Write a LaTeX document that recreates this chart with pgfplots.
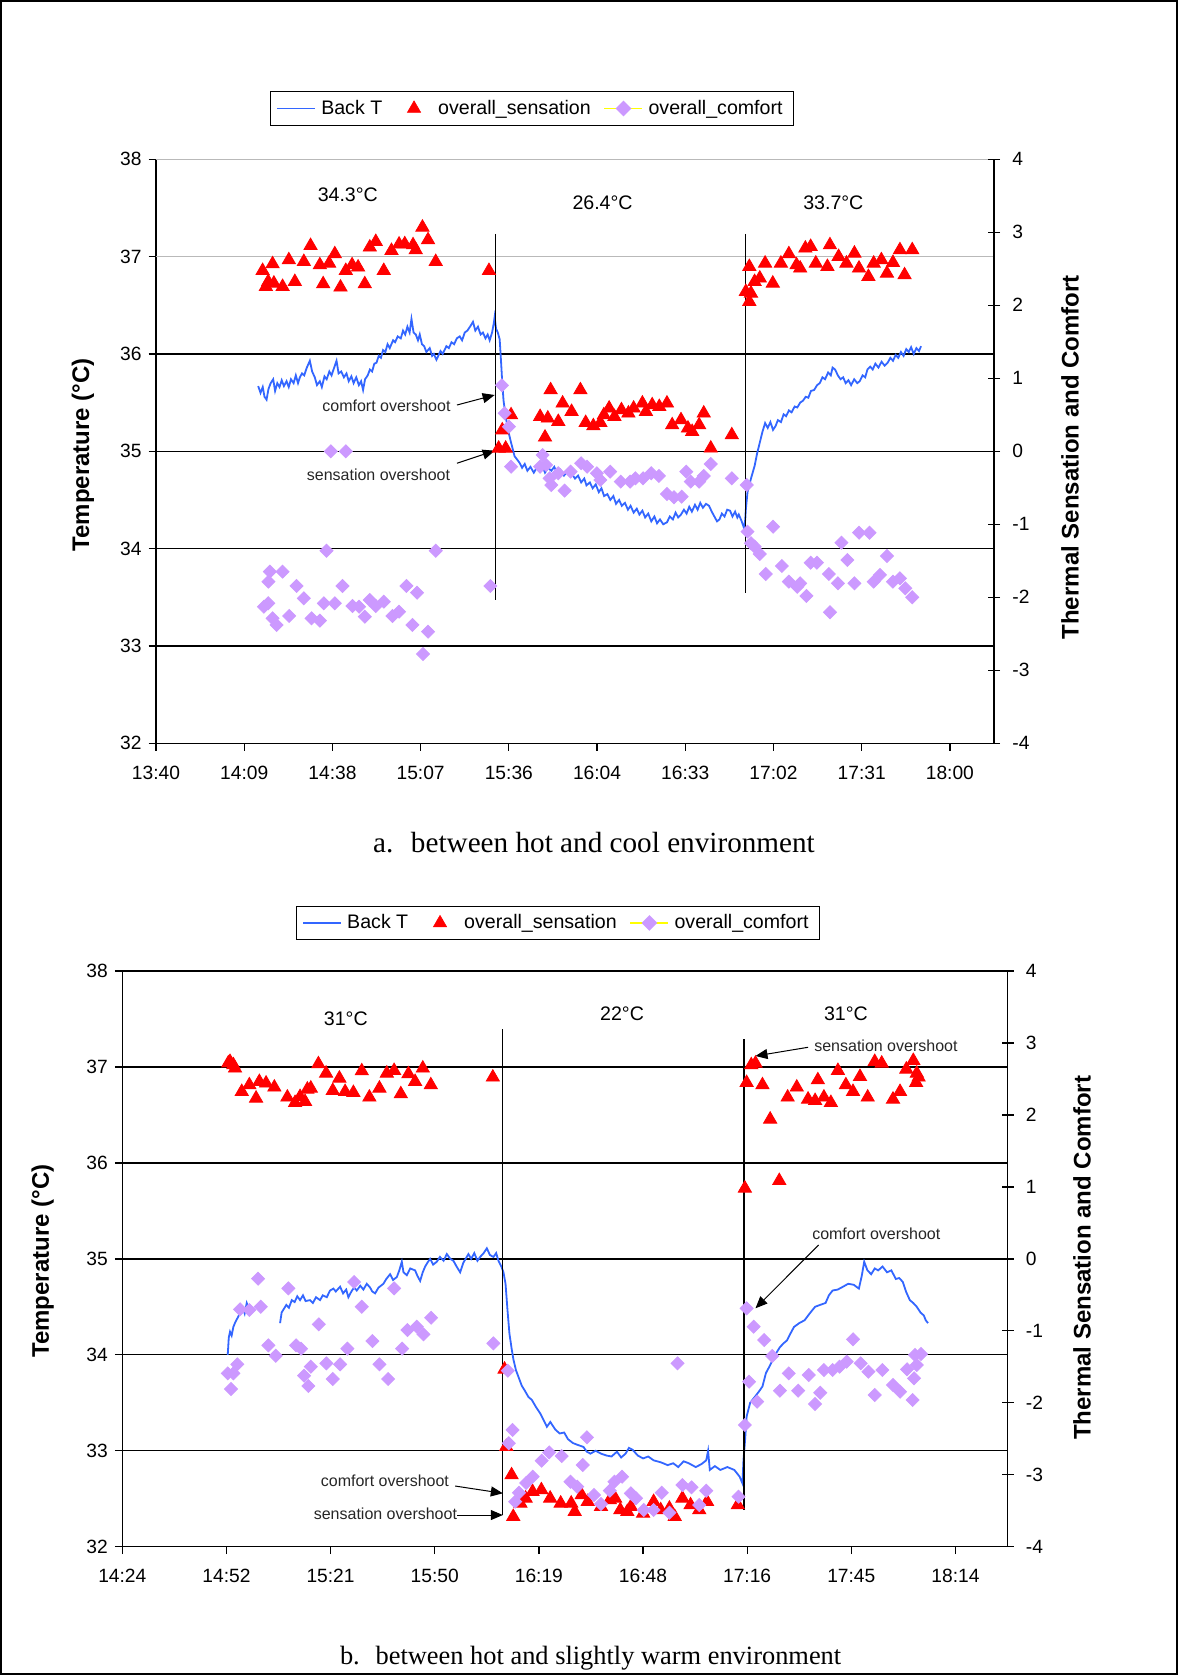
\documentclass[border=0pt]{standalone}
\usepackage{pgfplots}
\pgfplotsset{compat=1.18}
\usepackage{fontspec}
\setmainfont{Liberation Sans}
\newfontfamily\timesfont{Liberation Serif}
\usetikzlibrary{arrows.meta}
\definecolor{backT}{RGB}{51,102,255}
\definecolor{lilac}{RGB}{204,153,255}
\definecolor{yel}{RGB}{255,255,0}
\newcommand\ylabfont{\bfseries\fontsize{12}{14}\selectfont}

\tikzset{
  ann/.style={font=\fontsize{8}{9}\selectfont, text=black!85},
  per/.style={font=\fontsize{9.8}{11}\selectfont},
  arr/.style={-{Triangle[length=6pt,width=5pt]}, line width=0.5pt, black},
}
\pgfplotsset{
  ticklbl/.style={tick label style={font=\fontsize{9.6}{11}\selectfont}, /pgf/number format/assume math mode=true},
  leftax/.style={ticklbl, scale only axis, axis x line*=bottom, axis y line*=left,
     x axis line style={-}, y axis line style={-},
     axis line style={black, line width=0.65pt},
     ymin=32, ymax=38,
     ymajorgrids, major grid style={black, line width=0.65pt},
     tick style={black, line width=0.65pt},
     tick align=outside, major tick length=3.7pt,
     xticklabel style={yshift=-4pt},
     ylabel={Temperature (°C)},
  },
  rightax/.style={ticklbl, scale only axis, hide x axis, axis y line*=right,
     y axis line style={-}, axis line style={black, line width=0.65pt},
     ymin=-4, ymax=4, ytick={-4,-3,-2,-1,0,1,2,3,4},
     yticklabel style={xshift=2.7pt},
     tick style={black, line width=0.65pt}, tick align=center, major tick length=6pt,
     ylabel={Thermal Sensation and Comfort},
     legend columns=3,
     legend style={draw=black, line width=0.5pt, font=\fontsize{9.8}{11}\selectfont, anchor=center,
       inner xsep=3pt, inner ysep=2pt,
       nodes={inner xsep=2.6pt, inner ysep=2pt},
       /tikz/every even column/.append style={column sep=3.8pt}},
     legend image code/.code={\draw[mark repeat=2,mark phase=2,##1] plot coordinates {(0pt,0pt) (9.5pt,0pt) (19pt,0pt)};},
  },
  sens/.style={only marks, mark=triangle*, mark size=3.8pt, color=red, mark options={fill=red, draw=red}},
  comf/.style={only marks, mark=square*, mark size=2.3pt, color=lilac, mark options={rotate=45, fill=lilac, draw=lilac}},
  bline/.style={backT, line width=0.9pt, no markers},
  vline/.style={black, line width=0.65pt, no markers, forget plot},
  senslegend/.style={legend image code/.code={\path[draw=none,fill=none] (0pt,0pt) -- (19pt,0pt); \path[draw=red,fill=red,line width=0.3pt] (9.5pt,0pt) +(90:3.8pt) -- +(210:3.8pt) -- +(330:3.8pt) -- cycle;}},
}

\begin{document}
\begin{tikzpicture}
\useasboundingbox (0,0) rectangle (589pt,837.5pt);
\draw[line width=1.2pt] (0.6pt,0.6pt) rectangle (588.4pt,836.9pt);

%================ TOP CHART =================
\begin{axis}[leftax, at={(78pt,465.85pt)}, anchor=south west, width=419pt, height=292pt,
  xmin=57, xmax=76, xtick={57,59,61,63,65,67,69,71,73,75},
  xticklabels={13:40,14:09,14:38,15:07,15:36,16:04,16:33,17:02,17:31,18:00},
  ytick={32,33,34,35,36},
  extra y ticks={37,38}, extra y tick style={grid=major, major grid style={gray!55, line width=0.65pt}},
  every axis y label/.style={at={(axis description cs:-0.0871,0.4937)}, rotate=90, anchor=center, font=\ylabfont},
]
\addplot[bline] coordinates {
(59.317,35.67) (59.37,35.60) (59.42,35.66) (59.46,35.56) (59.507,35.53) (59.55,35.64) (59.60,35.70) (59.657,35.74)
(59.70,35.62) (59.75,35.70) (59.80,35.66) (59.85,35.73) (59.90,35.67) (59.960,35.72) (60.01,35.66) (60.06,35.74)
(60.12,35.70) (60.17,35.78) (60.22,35.70) (60.262,35.76) (60.31,35.80) (60.36,35.78) (60.42,35.86) (60.488,35.93)
(60.54,35.82) (60.60,35.76) (60.65,35.68) (60.715,35.72) (60.76,35.66) (60.82,35.77) (60.87,35.74) (60.93,35.82)
(60.98,35.78) (61.04,35.86) (61.093,35.93) (61.14,35.80) (61.20,35.82) (61.26,35.76) (61.319,35.80) (61.37,35.72)
(61.43,35.77) (61.48,35.70) (61.54,35.76) (61.60,35.68) (61.65,35.72) (61.695,35.63) (61.74,35.74) (61.80,35.78)
(61.85,35.84) (61.90,35.82) (61.95,35.90) (61.999,35.91) (62.05,35.98) (62.10,35.96) (62.148,36.04) (62.20,36.02)
(62.25,36.10) (62.30,36.06) (62.375,36.14) (62.42,36.12) (62.48,36.18) (62.55,36.16) (62.601,36.24) (62.65,36.20)
(62.70,36.28) (62.75,36.22) (62.792,36.36) (62.84,36.22) (62.89,36.20) (62.94,36.14) (62.980,36.20) (63.03,36.10)
(63.08,36.08) (63.13,36.02) (63.206,36.06) (63.26,35.98) (63.30,36.00) (63.358,35.94) (63.40,35.98) (63.45,36.03)
(63.50,36.00) (63.584,36.08) (63.64,36.06) (63.70,36.12) (63.76,36.10) (63.82,36.16) (63.886,36.18) (63.94,36.14)
(64.00,36.22) (64.06,36.24) (64.12,36.28) (64.187,36.33) (64.24,36.24) (64.30,36.28) (64.36,36.20) (64.413,36.22)
(64.47,36.16) (64.52,36.20) (64.565,36.14) (64.62,36.22) (64.66,36.32) (64.678,36.38) (64.71,36.26) (64.75,36.22)
(64.792,36.15) (64.81,36.02) (64.830,35.87) (64.851,35.70) (64.88,35.52) (64.928,35.36) (64.98,35.22) (65.050,35.09)
(65.09,35.02) (65.129,34.95) (65.18,34.92) (65.245,34.88) (65.30,34.83) (65.36,34.87) (65.42,34.80) (65.49,34.84)
(65.566,34.78) (65.63,34.83) (65.70,34.79) (65.76,34.85) (65.82,34.78) (65.890,34.83) (65.963,34.80) (66.03,34.84)
(66.10,34.77) (66.17,34.81) (66.25,34.75) (66.32,34.79) (66.441,34.76) (66.50,34.72) (66.57,34.75) (66.64,34.68)
(66.71,34.72) (66.76,34.65) (66.837,34.68) (66.90,34.62) (66.97,34.66) (67.04,34.58) (67.10,34.62) (67.16,34.54)
(67.233,34.56) (67.30,34.50) (67.37,34.54) (67.43,34.46) (67.50,34.50) (67.56,34.44) (67.632,34.47) (67.70,34.40)
(67.76,34.44) (67.83,34.37) (67.90,34.41) (67.96,34.35) (68.028,34.39) (68.09,34.32) (68.16,34.36) (68.23,34.28)
(68.30,34.33) (68.36,34.26) (68.427,34.30) (68.50,34.25) (68.585,34.27) (68.65,34.33) (68.72,34.30) (68.78,34.37)
(68.84,34.32) (68.903,34.35) (68.97,34.40) (69.03,34.36) (69.09,34.43) (69.15,34.38) (69.220,34.45) (69.28,34.40)
(69.34,34.47) (69.40,34.42) (69.47,34.46) (69.539,34.44) (69.60,34.38) (69.66,34.33) (69.720,34.28) (69.775,34.30)
(69.83,34.36) (69.89,34.33) (69.95,34.40) (70.015,34.39) (70.07,34.33) (70.13,34.38) (70.18,34.32) (70.214,34.35)
(70.28,34.28) (70.332,34.21) (70.36,34.30) (70.373,34.40) (70.411,34.58) (70.49,34.72) (70.572,34.85) (70.63,34.98)
(70.690,35.09) (70.75,35.20) (70.810,35.29) (70.87,35.24) (70.93,35.30) (70.99,35.22) (71.048,35.26) (71.10,35.32)
(71.17,35.30) (71.23,35.38) (71.286,35.36) (71.35,35.42) (71.41,35.40) (71.48,35.46) (71.540,35.45) (71.605,35.50)
(71.67,35.52) (71.73,35.56) (71.79,35.55) (71.85,35.62) (71.922,35.63) (71.99,35.68) (72.05,35.70) (72.11,35.76)
(72.17,35.74) (72.239,35.81) (72.30,35.78) (72.340,35.86) (72.397,35.84) (72.46,35.78) (72.52,35.74) (72.58,35.76)
(72.637,35.70) (72.70,35.73) (72.76,35.68) (72.83,35.74) (72.90,35.70) (72.955,35.72) (73.02,35.78) (73.08,35.76)
(73.13,35.84) (73.193,35.87) (73.25,35.84) (73.31,35.90) (73.38,35.86) (73.45,35.92) (73.52,35.88) (73.589,35.91)
(73.65,35.96) (73.71,35.93) (73.77,35.99) (73.829,35.96) (73.89,36.02) (73.95,35.98) (74.01,36.05) (74.067,36.02)
(74.12,36.07) (74.18,36.00) (74.24,36.06) (74.30,36.03) (74.345,36.08)
};
\end{axis}

\begin{axis}[rightax, at={(78pt,465.85pt)}, anchor=south west, width=419pt, height=292pt,
  xmin=57, xmax=76,
  every axis y label/.style={at={(axis description cs:1.0907,0.4897)}, rotate=90, anchor=center, font=\ylabfont},
  legend style={at={(0.4487,1.087)}},
]
\addlegendimage{bline}
\addlegendentry{Back T}
\addplot[sens, forget plot] coordinates {
(59.417,2.474) (59.643,2.566) (59.544,2.323) (59.491,2.255) (59.673,2.301) (59.870,2.255) (60.012,2.621) (60.148,2.323)
(60.352,2.597) (60.504,2.816) (60.715,2.552) (60.790,2.292) (60.925,2.575) (61.054,2.703) (61.183,2.247) (61.303,2.474)
(61.446,2.552) (61.582,2.521) (61.734,2.292) (61.847,2.795) (61.983,2.871) (62.164,2.474) (62.339,2.748) (62.511,2.836)
(62.640,2.840) (62.828,2.826) (62.889,2.758) (63.041,3.068) (63.168,2.895) (63.342,2.597) (64.549,2.474)
(64.769,0.04) (64.928,0.04) (64.851,0.29) (65.050,0.497) (65.709,0.474) (65.883,0.452) (65.947,0.840) (65.820,0.192)
(66.121,0.406) (66.219,0.658) (66.422,0.543) (66.622,0.840) (66.742,0.392) (66.916,0.347) (67.075,0.392) (67.154,0.497)
(67.274,0.589) (67.394,0.474) (67.553,0.566) (67.711,0.521) (67.829,0.589) (68.028,0.658) (68.108,0.543) (68.250,0.634)
(68.411,0.611) (68.585,0.658) (68.703,0.360) (68.903,0.429) (69.061,0.315) (69.156,0.269) (69.315,0.360) (69.419,0.521)
(69.578,0.041) (70.055,0.223)
(70.373,2.186) (70.452,2.05) (70.490,2.164) (70.452,2.529) (70.572,2.323) (70.690,2.37) (70.810,2.575) (70.984,2.301)
(71.168,2.575) (71.349,2.703) (71.523,2.552) (71.605,2.507) (71.723,2.781) (71.843,2.803) (71.960,2.575) (72.223,2.529)
(72.280,2.826) (72.477,2.666) (72.654,2.575) (72.835,2.712) (72.939,2.507) (73.152,2.392) (73.272,2.575) (73.446,2.621)
(73.573,2.438) (73.709,2.584) (73.867,2.758) (73.972,2.415) (74.146,2.758)
};
\addlegendimage{senslegend}
\addlegendentry{overall\_sensation}
\addplot[comf, forget plot] coordinates {
(59.446,-2.129) (59.544,-2.082) (59.582,-1.649) (59.55,-1.786) (59.870,-1.649) (59.643,-2.288) (59.734,-2.379) (60.019,-2.256)
(60.187,-1.845) (60.352,-2.014) (60.527,-2.288) (60.715,-2.320) (60.805,-2.082) (60.866,-1.362) (60.964,0) (61.303,0)
(61.054,-2.082) (61.229,-1.845) (61.455,-2.119) (61.605,-2.129) (61.734,-2.266) (61.847,-2.037) (61.983,-2.119) (62.164,-2.060)
(62.361,-2.256) (62.511,-2.197) (62.678,-1.845) (62.814,-2.379) (62.918,-1.937) (63.054,-2.777) (63.168,-2.471) (63.342,-1.362)
(64.581,-1.845)
(64.842,0.904) (64.905,0.521) (65.002,0.337) (65.050,-0.211) (65.766,-0.051) (65.709,-0.211) (65.845,-0.188) (65.924,-0.370)
(65.963,-0.462) (66.121,-0.301) (66.264,-0.539) (66.400,-0.279) (66.638,-0.164) (66.774,-0.211) (66.995,-0.301) (67.075,-0.393)
(67.297,-0.279) (67.537,-0.416) (67.750,-0.416) (67.870,-0.370) (68.044,-0.370) (68.228,-0.301) (68.402,-0.338) (68.585,-0.585)
(68.744,-0.630) (68.918,-0.622) (69.023,-0.279) (69.124,-0.416) (69.315,-0.416) (69.419,-0.338) (69.578,-0.174) (70.055,-0.370)
(70.395,-0.462)
(70.411,-1.101) (70.490,-1.260) (70.572,-1.306) (70.690,-1.407) (70.991,-1.033) (70.826,-1.681) (71.190,-1.571) (71.349,-1.786)
(71.539,-1.855) (71.605,-1.808) (71.747,-1.982) (71.843,-1.526) (71.985,-1.526) (72.255,-1.681) (72.280,-2.205) (72.461,-1.808)
(72.540,-1.252) (72.676,-1.489) (72.835,-1.808) (72.939,-1.115) (73.177,-1.115) (73.272,-1.786) (73.414,-1.694) (73.573,-1.434)
(73.709,-1.786) (73.867,-1.740) (73.988,-1.877) (74.146,-2.0)
};
\addlegendimage{yel, line width=0.9pt, mark=square*, mark size=2.3pt, mark options={rotate=45, fill=lilac, draw=lilac}}
\addlegendentry{overall\_comfort}
\addplot[vline] coordinates {(64.69,2.977) (64.69,-2.037)};
\addplot[vline] coordinates {(70.37,2.977) (70.37,-1.937)};
\node[per] at (axis cs:61.349,3.511) {34.3°C};
\node[per] at (axis cs:67.125,3.405) {26.4°C};
\node[per] at (axis cs:72.357,3.405) {33.7°C};
\node[ann] at (axis cs:62.225,0.621) {comfort overshoot};
\draw[arr] (axis cs:63.824,0.634) -- (axis cs:64.678,0.771);
\node[ann] at (axis cs:62.044,-0.325) {sensation overshoot};
\draw[arr] (axis cs:63.824,-0.164) -- (axis cs:64.678,0.008);
\end{axis}

%================ BOTTOM CHART =================
\begin{axis}[leftax, at={(61.15pt,64.15pt)}, anchor=south west, width=442.6pt, height=287.85pt,
  xmin=60, xmax=77, xtick={60,62,64,66,68,70,72,74,76},
  xticklabels={14:24,14:52,15:21,15:50,16:19,16:48,17:16,17:45,18:14},
  ytick={32,33,34,35,36,37,38},
  every axis y label/.style={at={(axis description cs:-0.0899,0.496)}, rotate=90, anchor=center, font=\ylabfont},
]
\addplot[bline] coordinates {
(62.025,34.00) (62.045,34.18) (62.069,34.24) (62.10,34.20) (62.133,34.29) (62.17,34.34) (62.229,34.40) (62.27,34.44)
(62.325,34.47) (62.35,34.43) (62.390,34.54) (62.42,34.50)
};
\addplot[bline] coordinates {
(63.030,34.33) (63.06,34.44) (63.093,34.47) (63.15,34.52) (63.20,34.49) (63.255,34.57) (63.31,34.55) (63.36,34.61)
(63.414,34.57) (63.47,34.62) (63.52,34.56) (63.606,34.57) (63.66,34.54) (63.72,34.60) (63.798,34.57) (63.85,34.62)
(63.927,34.60) (63.99,34.67) (64.054,34.69) (64.10,34.66) (64.183,34.71) (64.24,34.64) (64.30,34.68) (64.342,34.60)
(64.40,34.66) (64.45,34.70) (64.503,34.67) (64.57,34.72) (64.63,34.68) (64.695,34.74) (64.76,34.70) (64.80,34.66)
(64.855,34.64) (64.92,34.70) (65.014,34.74) (65.07,34.79) (65.143,34.84) (65.20,34.78) (65.272,34.81) (65.32,34.88)
(65.368,34.97) (65.40,34.86) (65.464,34.83) (65.53,34.90) (65.623,34.88) (65.67,34.82) (65.720,34.77) (65.77,34.86)
(65.816,34.92) (65.86,34.96) (65.912,35.00) (65.97,34.94) (66.040,34.97) (66.10,35.02) (66.17,34.98) (66.232,35.05)
(66.30,35.00) (66.359,34.98) (66.42,34.92) (66.488,34.86) (66.55,34.96) (66.647,35.05) (66.70,35.00) (66.76,35.06)
(66.82,34.98) (66.872,35.02) (66.94,35.06) (67.001,35.11) (67.06,35.04) (67.128,35.02) (67.18,35.06) (67.224,34.98)
(67.28,34.92) (67.320,34.86) (67.36,34.74) (67.397,34.47) (67.435,34.22) (67.481,34.05) (67.512,33.95) (67.56,33.84)
(67.608,33.77) (67.67,33.68) (67.737,33.62) (67.80,33.56) (67.865,33.53) (67.94,33.46) (68.025,33.39) (68.09,33.32)
(68.154,33.25) (68.22,33.30) (68.317,33.22) (68.40,33.18) (68.486,33.19) (68.56,33.12) (68.655,33.08) (68.75,33.06)
(68.857,33.04) (68.92,32.99) (68.991,32.97) (69.09,33.00) (69.193,32.97) (69.30,32.95) (69.395,32.94) (69.50,32.99)
(69.58,32.93) (69.666,32.97) (69.73,33.03) (69.800,33.01) (69.90,32.95) (70.002,32.92) (70.10,32.94) (70.204,32.90)
(70.34,32.88) (70.475,32.85) (70.58,32.87) (70.676,32.83) (70.78,32.89) (70.878,32.87) (71.012,32.83) (71.12,32.86)
(71.214,32.90) (71.25,33.00) (71.283,32.80) (71.38,32.84) (71.485,32.80) (71.620,32.83) (71.754,32.80) (71.856,32.73)
(71.910,32.66) (71.929,32.90) (71.956,33.08) (71.991,33.36) (72.058,33.50) (72.160,33.57) (72.23,33.62) (72.294,33.67)
(72.361,33.81) (72.43,33.88) (72.496,33.95) (72.56,34.02) (72.630,34.08) (72.70,34.12) (72.765,34.15) (72.83,34.22)
(72.899,34.29) (73.00,34.33) (73.103,34.36) (73.20,34.43) (73.304,34.50) (73.40,34.52) (73.506,34.54) (73.57,34.62)
(73.641,34.67) (73.74,34.68) (73.842,34.71) (73.94,34.74) (74.046,34.73) (74.146,34.69) (74.20,34.82) (74.248,34.97)
(74.31,34.88) (74.382,34.84) (74.45,34.90) (74.517,34.88) (74.60,34.92) (74.686,34.86) (74.77,34.88) (74.855,34.79)
(74.92,34.80) (74.989,34.76) (75.05,34.66) (75.124,34.57) (75.19,34.54) (75.258,34.50) (75.33,34.44) (75.393,34.41)
(75.43,34.36) (75.474,34.33)
};
\end{axis}

\begin{axis}[rightax, at={(61.15pt,64.15pt)}, anchor=south west, width=442.6pt, height=287.85pt,
  xmin=60, xmax=77,
  every axis y label/.style={at={(axis description cs:1.0841,0.502)}, rotate=90, anchor=center, font=\ylabfont},
  legend style={at={(0.4922,1.0834)}},
]
\addlegendimage{bline}
\addlegendentry{Back T}
\addplot[sens, forget plot] coordinates {
(62.069,2.740) (62.036,2.72) (62.133,2.694) (62.165,2.648) (62.294,2.323) (62.440,2.416) (62.569,2.231) (62.632,2.462)
(62.761,2.440) (62.920,2.384) (63.170,2.245) (63.318,2.170) (63.414,2.253) (63.510,2.184) (63.554,2.356) (63.620,2.370)
(63.766,2.708) (63.914,2.578) (64.042,2.337) (64.169,2.509) (64.279,2.323) (64.438,2.309) (64.599,2.610) (64.745,2.245)
(64.938,2.370) (65.080,2.578) (65.220,2.615) (65.349,2.291) (65.495,2.569) (65.623,2.462) (65.771,2.648) (65.925,2.416)
(67.116,2.523)
(67.341,-1.535) (67.374,-2.610) (67.476,-3.004) (67.508,-3.583) (67.645,-3.397) (67.745,-3.328) (67.879,-3.236) (68.048,-3.212)
(68.217,-3.328) (68.419,-3.397) (68.621,-3.397) (68.688,-3.514) (68.822,-3.282) (68.938,-3.375) (69.193,-3.444) (69.362,-3.351)
(69.464,-3.328) (69.564,-3.490) (69.698,-3.514) (69.766,-3.444) (70.002,-3.536) (70.204,-3.375) (70.340,-3.490) (70.507,-3.467)
(70.609,-3.583) (70.757,-3.328) (70.913,-3.421) (71.080,-3.490) (71.230,-3.375) (71.821,-3.421)
(72.079,2.694) (72.160,2.717) (71.990,2.448) (72.294,2.416) (71.956,0.980) (72.442,1.939) (72.617,1.086) (72.778,2.245)
(72.953,2.384) (73.170,2.217) (73.305,2.198) (73.358,2.485) (73.474,2.245) (73.608,2.170) (73.743,2.615) (73.896,2.416)
(74.033,2.323) (74.167,2.531) (74.315,2.245) (74.450,2.740) (74.584,2.717) (74.801,2.217) (74.936,2.323) (75.057,2.634)
(75.191,2.754) (75.258,2.578) (75.293,2.523) (75.245,2.448)
};
\addlegendimage{senslegend}
\addlegendentry{overall\_sensation}
\addplot[comf, forget plot] coordinates {
(62.025,-1.591) (62.088,-1.809) (62.133,-1.591) (62.209,-1.466) (62.261,-0.701) (62.440,-0.711) (62.607,-0.276) (62.659,-0.665)
(62.805,-1.202) (62.947,-1.346) (63.189,-0.410) (63.337,-1.202) (63.433,-1.248) (63.491,-1.624) (63.573,-1.767) (63.620,-1.499)
(63.773,-0.910) (63.919,-1.452) (64.042,-1.670) (64.183,-1.466) (64.323,-1.248) (64.452,-0.322) (64.599,-0.665) (64.803,-1.142)
(64.938,-1.466) (65.105,-1.670) (65.220,-0.410) (65.374,-1.248) (65.476,-0.989) (65.656,-0.943) (65.783,-1.049) (65.931,-0.818)
(67.126,-1.174) (67.403,-1.554) (67.495,-2.378) (67.422,-2.563) (67.545,-3.375) (67.618,-3.250) (67.756,-3.115) (67.881,-3.027)
(68.054,-2.805) (68.198,-2.690) (68.438,-2.740) (68.607,-3.097) (68.736,-3.166) (68.843,-2.865) (68.924,-2.480) (69.059,-3.282)
(69.193,-3.407) (69.362,-3.222) (69.451,-3.097) (69.598,-3.027) (69.766,-3.258) (69.867,-3.328) (70.015,-3.490) (70.204,-3.490)
(70.359,-3.250) (70.507,-3.528) (70.663,-1.452) (70.757,-3.143) (70.932,-3.175) (71.080,-3.421) (71.214,-3.222) (71.835,-3.305)
(71.956,-2.309) (71.990,-0.688) (72.037,-1.707) (72.125,-0.943) (72.192,-1.985) (72.327,-1.128) (72.482,-1.350) (72.630,-1.832)
(72.799,-1.591) (72.980,-1.832) (73.183,-1.614) (73.304,-2.017) (73.404,-1.860) (73.474,-1.545) (73.641,-1.545) (73.775,-1.499)
(73.912,-1.429) (74.033,-1.118) (74.181,-1.452) (74.329,-1.568) (74.450,-1.892) (74.597,-1.545) (74.801,-1.753) (74.936,-1.846)
(75.070,-1.535) (75.178,-1.962) (75.205,-1.660) (75.258,-1.475) (75.224,-1.336) (75.339,-1.322)
};
\addlegendimage{yel, line width=0.9pt, mark=square*, mark size=2.3pt, mark options={rotate=45, fill=lilac, draw=lilac}}
\addlegendentry{overall\_comfort}
\addplot[vline] coordinates {(67.306,3.19) (67.306,-3.56)};
\addplot[vline] coordinates {(71.942,3.05) (71.942,-3.49)};
\node[per] at (axis cs:64.292,3.333) {31°C};
\node[per] at (axis cs:69.598,3.403) {22°C};
\node[per] at (axis cs:73.898,3.403) {31°C};
\node[ann] at (axis cs:74.665,2.958) {sensation overshoot};
\draw[arr] (axis cs:73.170,2.940) -- (axis cs:72.160,2.819);
\node[ann] at (axis cs:74.480,0.355) {comfort overshoot};
\draw[arr] (axis cs:73.372,0.192) -- (axis cs:72.160,-0.687);
\node[ann] at (axis cs:65.043,-3.083) {comfort overshoot};
\draw[arr] (axis cs:66.392,-3.157) -- (axis cs:67.308,-3.258);
\node[ann] at (axis cs:65.053,-3.536) {sensation overshoot};
\draw[arr] (axis cs:66.436,-3.560) -- (axis cs:67.308,-3.560);
\end{axis}

\node[font=\timesfont\fontsize{14.6}{17}\selectfont] at (297pt,416pt) {a.\hspace{0.6em}between hot and cool environment};
\node[font=\timesfont\fontsize{13.2}{16}\selectfont] at (295.3pt,8.6pt) {b.\hspace{0.6em}between hot and slightly warm environment};
\end{tikzpicture}
\end{document}
